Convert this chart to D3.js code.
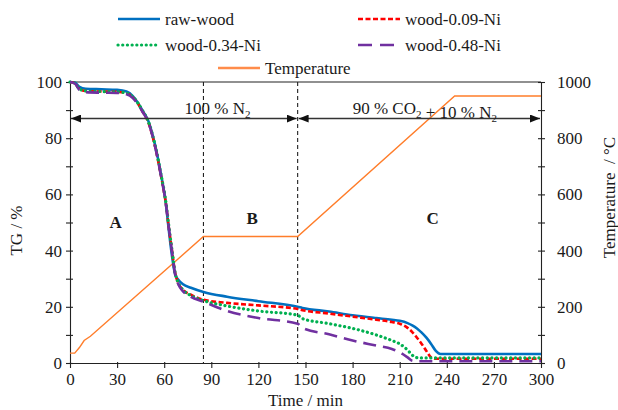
<!DOCTYPE html>
<meta charset="utf-8">
<head>
<title>TG and temperature vs time</title>
<script src="https://d3js.org/d3.v7.min.js"></script>
<style>
  body { margin: 0; background: #fff; }
  svg { display: block; }
  text { font-family: 'Liberation Serif', serif; fill: #1a1a1a; }
  .axis text { font-size: 17px; }
  .axis line, .axis path { stroke: #222; stroke-width: 1.1; }
  .legend text { font-size: 17px; }
  .title { font-size: 17px; }
  .zone { font-size: 17px; font-weight: bold; }
  .gas { font-size: 17px; }
</style>
</head>
<body>
<svg width="618" height="410"></svg>
<script>
// sampling times (min) shared by the four TG curves
const time = [0, 3, 6, 10, 20, 30, 36, 40, 43, 46, 50, 54, 58, 61, 63, 65, 67, 69, 72, 77, 85,
  100, 120, 145, 148, 165, 180, 195, 205, 210, 215, 218, 221, 224, 227, 230, 233, 236, 245, 270, 300];

const rawWood = [100, 99.8, 98.3, 97.6, 97.4, 97.2, 96.6, 95, 92.8, 90, 86, 78, 67, 57, 47, 38, 31.5, 29.6, 28, 26.8, 25.3,
  23.6, 22, 20, 19.6, 18.3, 17, 16, 15.4, 15, 14.2, 13.4, 12.3, 10.8, 9, 6.8, 4.3, 3.2, 3.2, 3.2, 3.2];
const wood009 = [100, 99.6, 97.5, 96.8, 96.6, 96.5, 96, 94.6, 92.5, 89.7, 85.5, 77.5, 66.5, 57, 48, 40, 32, 28.5, 26, 24.3, 22.5,
  21.4, 20.5, 19.2, 18.8, 17.6, 16.5, 15.4, 14.6, 14, 12.5, 11, 9, 6.8, 4.3, 2, 1.5, 1.5, 1.5, 1.5, 1.5];
const wood034 = [100, 99.6, 97.5, 96.8, 96.6, 96.5, 96, 94.7, 92.7, 90, 85.8, 78, 67, 57.5, 48.5, 40, 32, 28.5, 26, 24, 22.2,
  20.3, 18.5, 17, 15.8, 14, 12.3, 10, 8, 6.8, 4.6, 2.8, 1.9, 1.8, 1.8, 1.8, 1.8, 1.8, 1.8, 1.8, 1.8];
const wood048 = [100, 99.5, 97.2, 96.4, 96.2, 96.1, 95.6, 94.3, 92.3, 89.6, 85.5, 77.5, 66.5, 57, 48, 39.5, 31.5, 28, 25.5, 23.5, 21.8,
  18.5, 16, 14, 12.5, 10.2, 8, 6.2, 5, 3.8, 2, 0.8, 0.6, 0.6, 0.6, 0.6, 0.6, 0.6, 0.6, 0.6, 0.6];

// furnace programme
const tempTime = [0, 3, 6, 9, 13, 85, 145, 245, 300];
const tempValue = [35, 35, 55, 80, 95, 450, 450, 950, 950];

// gas switch times
const stageBounds = [85, 145];

const xTicks = d3.range(0, 301, 30);
const tgTicks = d3.range(0, 101, 10);
const tempTicks = d3.range(0, 1001, 100);

const series = [
  {label: 'raw-wood', values: rawWood, color: '#0070c0', dash: null},
  {label: 'wood-0.09-Ni', values: wood009, color: '#ff0000', dash: '5,2.5'},
  {label: 'wood-0.34-Ni', values: wood034, color: '#00b050', dash: '0.1,4.6'},
  {label: 'wood-0.48-Ni', values: wood048, color: '#7030a0', dash: '13,7'}
];

const svg = d3.select('svg');
const margin = {top: 82, right: 77, bottom: 47, left: 70};
const width = 618 - margin.left - margin.right;
const height = 410 - margin.top - margin.bottom;

const chart = svg.append('g').attr('transform', `translate(${margin.left}, ${margin.top})`);

const x = d3.scaleLinear().domain([0, 300]).range([0, width]);
const yTG = d3.scaleLinear().domain([0, 100]).range([height, 0]);
const yT = d3.scaleLinear().domain([0, 1000]).range([height, 0]);

// arrow heads
svg.append('defs').append('marker')
  .attr('id', 'head')
  .attr('viewBox', '0 0 10 8')
  .attr('refX', 10).attr('refY', 4)
  .attr('markerWidth', 10).attr('markerHeight', 8)
  .attr('markerUnits', 'userSpaceOnUse')
  .attr('orient', 'auto-start-reverse')
  .append('path').attr('d', 'M0,0L10,4L0,8Z').attr('fill', '#111');

// axes
const xAxis = chart.append('g').attr('class', 'axis')
  .attr('transform', `translate(0, ${height})`)
  .call(d3.axisBottom(x).tickValues(xTicks).tickSize(5).tickSizeOuter(0).tickPadding(5));
xAxis.selectAll('.tick line').attr('y1', -1);

const leftAxis = chart.append('g').attr('class', 'axis')
  .call(d3.axisLeft(yTG).tickValues(tgTicks).tickSize(4).tickSizeOuter(0).tickPadding(4)
    .tickFormat(d => d % 20 === 0 ? d : ''));
leftAxis.selectAll('.tick line').attr('x1', 3);

const rightAxis = chart.append('g').attr('class', 'axis')
  .attr('transform', `translate(${width}, 0)`)
  .call(d3.axisRight(yT).tickValues(tempTicks).tickSize(4).tickSizeOuter(0).tickPadding(12)
    .tickFormat(d => d % 200 === 0 ? d : ''));
rightAxis.selectAll('.tick line').attr('x1', -3);

// top frame
chart.append('line')
  .attr('x1', 0).attr('x2', width).attr('y1', 0).attr('y2', 0)
  .attr('stroke', '#222').attr('stroke-width', 1.1);

// stage boundaries
chart.selectAll('.bound')
  .data(stageBounds)
  .enter().append('line')
  .attr('class', 'bound')
  .attr('x1', d => x(d)).attr('x2', d => x(d))
  .attr('y1', 0).attr('y2', height)
  .attr('stroke', '#222').attr('stroke-width', 1.1)
  .attr('stroke-dasharray', '4,3');

// temperature programme
const tempLine = d3.line()
  .x((d, i) => x(tempTime[i]))
  .y(d => yT(d));
chart.append('path')
  .datum(tempValue)
  .attr('d', tempLine)
  .attr('fill', 'none')
  .attr('stroke', '#ff7d2a')
  .attr('stroke-width', 1.4);

// TG curves
const tgLine = d3.line()
  .x((d, i) => x(time[i]))
  .y(d => yTG(d))
  .curve(d3.curveMonotoneX);

chart.selectAll('.tg')
  .data(series)
  .enter().append('path')
  .attr('class', 'tg')
  .attr('d', s => tgLine(s.values))
  .attr('fill', 'none')
  .attr('stroke', s => s.color)
  .attr('stroke-width', s => s.dash === '0.1,4.6' ? 3.2 : 2.6)
  .attr('stroke-linecap', s => s.dash === '0.1,4.6' ? 'round' : 'butt')
  .attr('stroke-dasharray', s => s.dash);

// gas atmosphere arrows
const arrowY = yTG(87);
[[0, 145], [145, 300]].forEach(([a, b]) => {
  chart.append('line')
    .attr('x1', x(a) + 1).attr('x2', x(b) - 1)
    .attr('y1', arrowY).attr('y2', arrowY)
    .attr('stroke', '#333').attr('stroke-width', 1.6)
    .attr('marker-start', 'url(#head)')
    .attr('marker-end', 'url(#head)');
});

function gasLabel(cx, parts) {
  const t = chart.append('text').attr('class', 'gas')
    .attr('x', x(cx)).attr('y', arrowY - 5)
    .attr('text-anchor', 'middle');
  parts.forEach(([str, sub]) => {
    t.append('tspan').text(str);
    if (sub) {
      t.append('tspan').attr('dy', 4).attr('font-size', '11px').text(sub);
      t.append('tspan').attr('dy', -4).text('');
    }
  });
}
gasLabel(94, [['100 % N', '2']]);
gasLabel(226, [['90 % CO', '2'], [' + 10 % N', '2']]);

// stage letters
chart.selectAll('.zone')
  .data([['A', 29, 48], ['B', 116, 49.5], ['C', 231, 49.5]])
  .enter().append('text')
  .attr('class', 'zone')
  .attr('x', d => x(d[1])).attr('y', d => yTG(d[2]))
  .attr('text-anchor', 'middle')
  .text(d => d[0]);

// axis titles
svg.append('text').attr('class', 'title')
  .attr('x', margin.left + width / 2).attr('y', 406)
  .attr('text-anchor', 'middle')
  .text('Time / min');

svg.append('text').attr('class', 'title')
  .attr('transform', `translate(22, ${margin.top + height / 2 + 8}) rotate(-90)`)
  .attr('text-anchor', 'middle')
  .text('TG / %');

svg.append('text').attr('class', 'title')
  .attr('transform', `translate(615, ${margin.top + height / 2 - 25}) rotate(-90)`)
  .attr('text-anchor', 'middle')
  .style('white-space', 'pre')
  .text('Temperature  / °C');

// legend
const legendItems = [
  {s: series[0], x: 118, y: 19},
  {s: series[1], x: 358, y: 19},
  {s: series[2], x: 118, y: 45},
  {s: series[3], x: 358, y: 45},
  {s: {label: 'Temperature', color: '#ff8c4a', dash: null}, x: 218, y: 68}
];
const legend = svg.append('g').attr('class', 'legend');
legendItems.forEach(item => {
  const g = legend.append('g').attr('transform', `translate(${item.x}, ${item.y})`);
  g.append('line')
    .attr('x1', 0).attr('x2', 42).attr('y1', 0).attr('y2', 0)
    .attr('stroke', item.s.color)
    .attr('stroke-width', item.s.dash === '0.1,4.6' ? 3.2 : 2.6)
    .attr('stroke-linecap', item.s.dash === '0.1,4.6' ? 'round' : 'butt')
    .attr('stroke-dasharray', item.s.dash === '13,7' ? '14,8' : item.s.dash);
  g.append('text')
    .attr('x', 47).attr('y', 5.5)
    .text(item.s.label);
});
</script>
</body>
